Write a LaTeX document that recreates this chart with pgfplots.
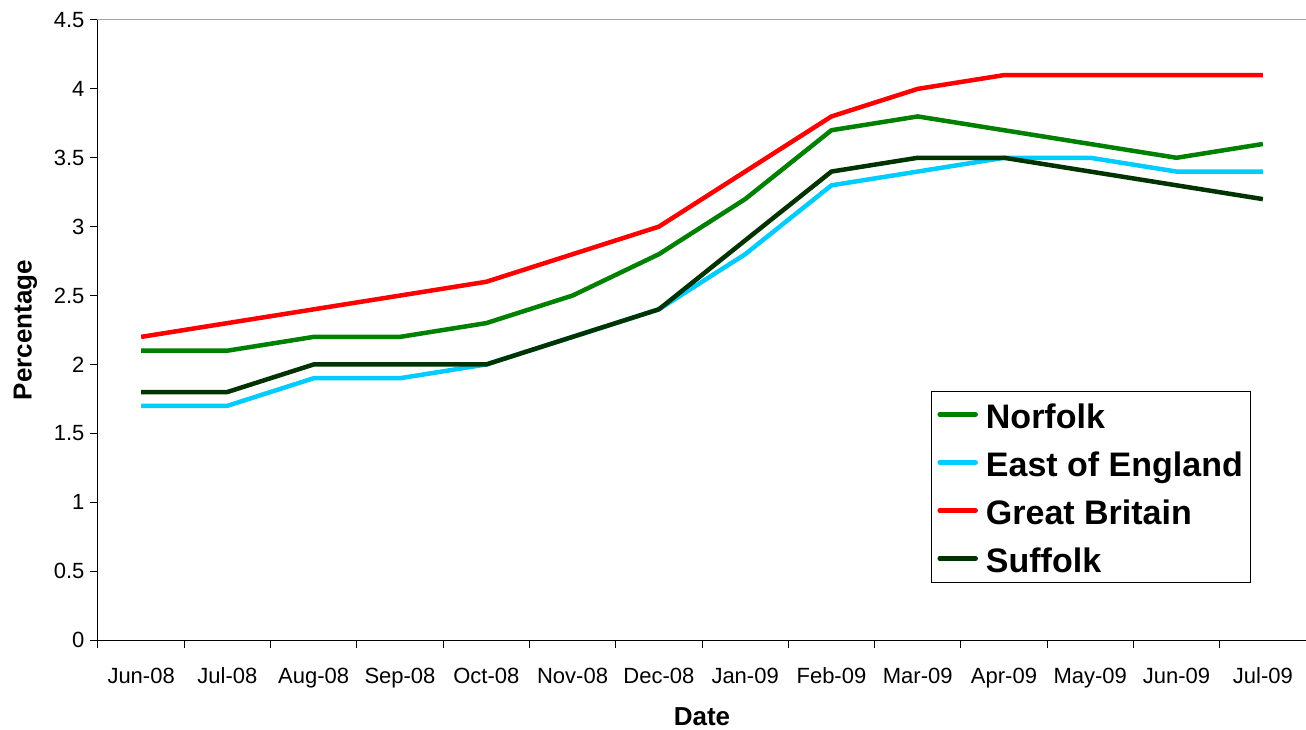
\documentclass[border=0pt]{standalone}
\usepackage{pgfplots}
\pgfplotsset{compat=1.18}
\usepackage{fontspec}
\setmainfont{Liberation Sans}
\definecolor{norfolk}{RGB}{0,128,0}
\definecolor{eoe}{RGB}{0,204,255}
\definecolor{gb}{RGB}{255,0,0}
\definecolor{suffolk}{RGB}{0,51,0}
\begin{document}
\begin{tikzpicture}
\begin{axis}[
  scale only axis,
  width=1208pt, height=620pt,
  xmin=-0.5, xmax=13.5, ymin=0, ymax=4.5,
  xtick={0,...,13},
  xticklabels={Jun-08,Jul-08,Aug-08,Sep-08,Oct-08,Nov-08,Dec-08,Jan-09,Feb-09,Mar-09,Apr-09,May-09,Jun-09,Jul-09},
  major x tick style={draw=none},
  minor xtick={-0.5,0.5,...,13.5},
  minor tick length=8pt,
  ytick={0,0.5,...,4.5},
  yticklabels={0,0.5,1,1.5,2,2.5,3,3.5,4,4.5},
  major tick length=8pt,
  tick align=outside,
  xtick pos=bottom, ytick pos=left,
  tick style={black, line width=1pt},
  axis line style={gray!70, line width=1pt},
  ticklabel style={font=\fontsize{22}{24}\selectfont},
  xticklabel style={yshift=-16pt, text height=16pt, text depth=5pt, anchor=north},
  yticklabel style={xshift=-2pt},
  xlabel={\textbf{Date}},
  ylabel={\textbf{Percentage}},
  label style={font=\fontsize{26}{28}\selectfont},
  xlabel style={yshift=-12pt},
  ylabel style={yshift=10pt},
  legend style={at={(rel axis cs:0.6896,0.093)}, anchor=south west,
    draw=black, line width=0.8pt, font=\fontsize{34}{38}\selectfont\bfseries,
    legend cell align=left, inner xsep=6pt, inner ysep=5.5pt,
    row sep=12pt,
    /tikz/every odd column/.append style={column sep=6pt},
    nodes={inner sep=2pt, text height=30pt, text depth=2pt}},
  legend image code/.code={\draw[#1, line width=4.5pt, line cap=round] (0pt,0pt) -- (36pt,0pt);},
  every axis plot/.append style={line width=4.5pt, line join=round},
  clip=false,
]
\addplot[norfolk] coordinates {(0,2.1)(1,2.1)(2,2.2)(3,2.2)(4,2.3)(5,2.5)(6,2.8)(7,3.2)(8,3.7)(9,3.8)(10,3.7)(11,3.6)(12,3.5)(13,3.6)};
\addlegendentry{Norfolk}
\addplot[eoe] coordinates {(0,1.7)(1,1.7)(2,1.9)(3,1.9)(4,2.0)(5,2.2)(6,2.4)(7,2.8)(8,3.3)(9,3.4)(10,3.5)(11,3.5)(12,3.4)(13,3.4)};
\addlegendentry{East of England}
\addplot[gb] coordinates {(0,2.2)(1,2.3)(2,2.4)(3,2.5)(4,2.6)(5,2.8)(6,3.0)(7,3.4)(8,3.8)(9,4.0)(10,4.1)(11,4.1)(12,4.1)(13,4.1)};
\addlegendentry{Great Britain}
\addplot[suffolk] coordinates {(0,1.8)(1,1.8)(2,2.0)(3,2.0)(4,2.0)(5,2.2)(6,2.4)(7,2.9)(8,3.4)(9,3.5)(10,3.5)(11,3.4)(12,3.3)(13,3.2)};
\addlegendentry{Suffolk}
\draw[black, line width=1pt] (rel axis cs:0,1) -- (rel axis cs:0,0) -- (rel axis cs:1,0);
\end{axis}
\pgfresetboundingbox
\path[use as bounding box] ([xshift=-98pt,yshift=-89pt]current axis.south west) rectangle ([yshift=20pt]current axis.north east);
\end{tikzpicture}
\end{document}
